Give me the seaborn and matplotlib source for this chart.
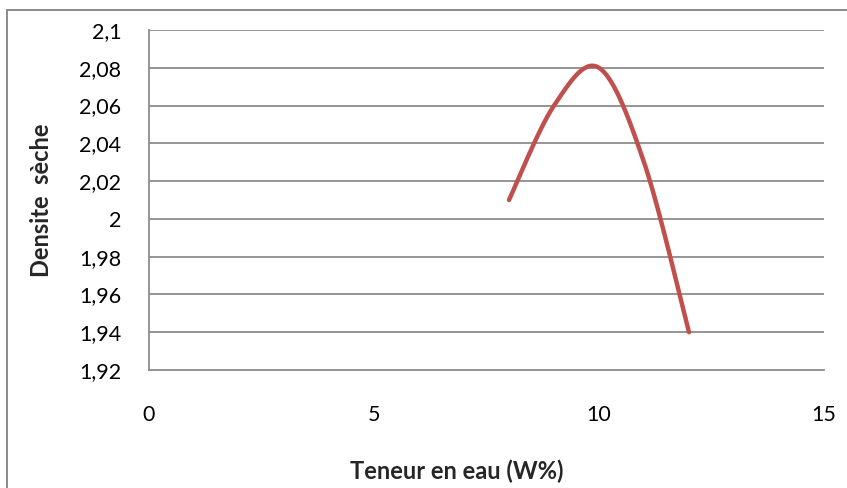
import numpy as np
import pandas as pd
import matplotlib
matplotlib.use("Agg")
import matplotlib.pyplot as plt
import seaborn as sns
from matplotlib.patches import Rectangle

# Proctor test results: water content vs dry density
teneur_eau = [8, 9, 10, 11, 12]
densite_seche = [2.01, 2.06, 2.08, 2.03, 1.94]

x_ticks = [0, 5, 10, 15]
y_ticks = [1.92, 1.94, 1.96, 1.98, 2.0, 2.02, 2.04, 2.06, 2.08, 2.1]
y_tick_labels = ["1,92", "1,94", "1,96", "1,98", "2", "2,02", "2,04", "2,06", "2,08", "2,1"]


def smooth_curve(xs, ys, n=60):
    """Cubic Bezier smoothing through every point (spreadsheet-style smoothed line)."""
    p = np.column_stack([xs, ys]).astype(float)
    pts = np.vstack([p[0], p, p[-1]])
    out = []
    for i in range(1, len(pts) - 2):
        p0, p1, p2, p3 = pts[i - 1], pts[i], pts[i + 1], pts[i + 2]
        c1 = p1 + (p2 - p0) / 6.0
        c2 = p2 - (p3 - p1) / 6.0
        t = np.linspace(0, 1, n)[:, None]
        seg = ((1 - t) ** 3) * p1 + 3 * ((1 - t) ** 2) * t * c1 + 3 * (1 - t) * t ** 2 * c2 + t ** 3 * p2
        out.append(seg if i == 1 else seg[1:])
    return np.vstack(out)


sns.set_theme(style="white")
plt.rcParams["font.family"] = ["Lato", "DejaVu Sans"]

curve = smooth_curve(teneur_eau, densite_seche)
df = pd.DataFrame({"W": curve[:, 0], "d": curve[:, 1]})

fig = plt.figure(figsize=(8.47, 4.88), dpi=100)
fig.patch.set_facecolor("white")
fig.patches.append(Rectangle((7 / 847, -0.1), 1.2, (488 - 10) / 488 + 0.1,
                             transform=fig.transFigure, fill=False,
                             edgecolor="#8a8a8a", linewidth=1.4))

ax = fig.add_axes([149 / 847, (488 - 370) / 488, (824 - 149) / 847, (370 - 30) / 488])

grid_color = "#8c8c8c"
for yv in y_ticks[1:]:
    ax.axhline(yv, color=grid_color, linewidth=1.3, zorder=1)

sns.lineplot(data=df, x="W", y="d", sort=False, color="#C0504D",
             linewidth=3.2, ax=ax, zorder=3, solid_capstyle="round")

ax.set_xlim(0, 15)
ax.set_ylim(1.92, 2.1)
ax.set_xticks(x_ticks)
ax.set_xticklabels([str(v) for v in x_ticks])
ax.set_yticks(y_ticks)
ax.set_yticklabels(y_tick_labels)

ax.tick_params(axis="x", length=0, pad=25, labelsize=15.5, colors="black")
ax.tick_params(axis="y", length=0, pad=20, labelsize=15.5, colors="black")

for side in ["top", "right"]:
    ax.spines[side].set_visible(False)
for side in ["left", "bottom"]:
    ax.spines[side].set_color(grid_color)
    ax.spines[side].set_linewidth(1.3)

ax.set_xlabel("Teneur en eau (W%)", fontsize=17, fontweight="bold")
ax.set_ylabel("Densite  sèche", fontsize=17, fontweight="bold")
ax.xaxis.label.set_va("center")
ax.yaxis.label.set_va("center")
ax.xaxis.set_label_coords((457 - 149) / 675, (370 - 471) / 340)
ax.yaxis.set_label_coords((42 - 149) / 675, 0.5)

fig.savefig("out.png", dpi=100, facecolor="white")
